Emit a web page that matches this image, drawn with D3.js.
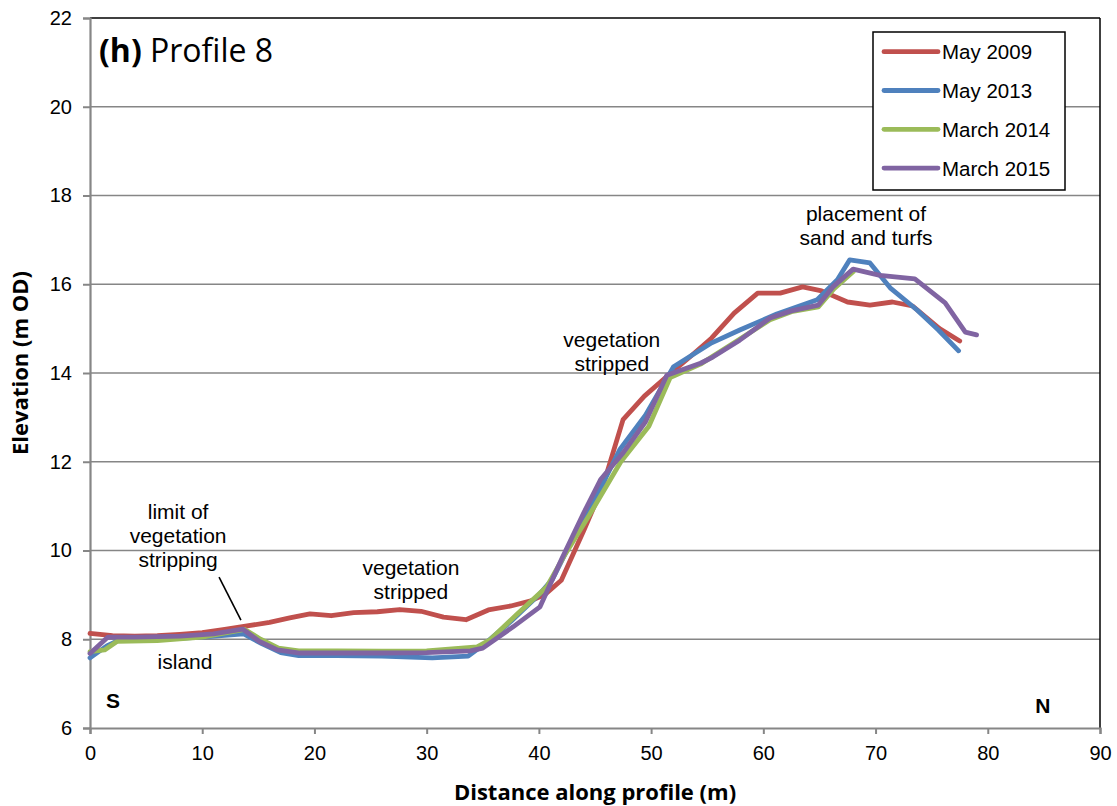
<!DOCTYPE html>
<html><head><meta charset="utf-8">
<script src="https://cdn.jsdelivr.net/npm/d3@7"></script>
<style>
html,body{margin:0;padding:0;background:#fff;}
svg{display:block;}
</style></head>
<body>
<svg id="chart" width="1117" height="806"></svg>
<script>
// ---- data ----
const seriesNames = ["May 2009", "May 2013", "March 2014", "March 2015"];
const seriesColors = ["#C0504D", "#4F81BD", "#9BBB59", "#8064A2"];

const may2009 = [[0,8.13],[2,8.08],[4,8.07],[6,8.08],[8,8.11],[10,8.15],[12,8.22],[14,8.30],[16,8.38],[17.8,8.48],[19.6,8.57],[21.5,8.53],[23.5,8.60],[25.6,8.62],[27.6,8.67],[29.5,8.63],[31.5,8.50],[33.5,8.44],[35.5,8.66],[37.5,8.75],[39.2,8.86],[40.5,9.0],[42,9.33],[44,10.45],[45.7,11.45],[47.5,12.95],[49.4,13.48],[51.4,13.92],[53.4,14.35],[55.4,14.79],[57.4,15.35],[59.5,15.80],[61.5,15.80],[63.5,15.94],[65.2,15.85],[67.5,15.60],[69.5,15.53],[71.5,15.60],[73.3,15.51],[75.7,15.00],[77.5,14.72]];

const may2013 = [[0,7.58],[1.5,7.85],[2.5,7.97],[6,8.00],[10,8.05],[13.7,8.12],[15.3,7.90],[17,7.70],[18.6,7.63],[22,7.63],[26,7.62],[30.5,7.58],[33.7,7.62],[35.2,7.90],[37.5,8.40],[40,9.00],[41.2,9.35],[42.5,10.0],[44.5,10.9],[47.2,12.27],[49.5,13.05],[52,14.14],[55.4,14.68],[57.9,14.97],[61.2,15.33],[64.8,15.65],[66.6,16.10],[67.7,16.55],[69.5,16.48],[71.3,15.92],[73.7,15.42],[75.6,14.97],[77.4,14.50]];

const march2014 = [[0,7.72],[1.3,7.76],[2.4,7.95],[6,7.97],[10,8.05],[13.8,8.22],[15.2,8.00],[16.8,7.80],[18.6,7.74],[22,7.74],[26,7.73],[30,7.74],[34.5,7.83],[35.6,7.98],[38,8.55],[40.7,9.18],[42.3,9.9],[44.5,10.8],[47.3,12.0],[49.8,12.8],[51.7,13.9],[54.4,14.2],[57.5,14.7],[60.6,15.20],[62.5,15.38],[64.9,15.49],[66.3,15.90],[68,16.28]];

const march2015 = [[0,7.68],[1.6,8.05],[4,8.05],[8,8.07],[11,8.12],[13.6,8.23],[15.1,7.95],[16.7,7.76],[18.7,7.69],[22,7.69],[26,7.69],[30,7.70],[33.9,7.74],[35,7.80],[37.7,8.28],[40.1,8.73],[42,9.79],[44,10.85],[45.5,11.6],[47.5,12.2],[49.5,12.9],[51.4,13.95],[54.4,14.22],[55.5,14.36],[57.9,14.74],[60.6,15.24],[62.5,15.40],[64.9,15.53],[66.2,15.94],[68,16.34],[70.4,16.20],[73.5,16.12],[76.2,15.58],[78,14.92],[79,14.86]];

const xTicks = [0,10,20,30,40,50,60,70,80,90];
const yTicks = [6,8,10,12,14,16,18,20,22];

// annotations: anchor in data units, text lines
const annotations = [
  {x:7.85, y:10.70, lines:["limit of","vegetation","stripping"]},
  {x:8.47, y:7.32, lines:["island"]},
  {x:28.6, y:9.44, lines:["vegetation","stripped"]},
  {x:46.5, y:14.58, lines:["vegetation","stripped"]},
  {x:69.15, y:17.42, lines:["placement of","sand and turfs"]}
];
const arrowLine = [[11.5,9.4],[13.45,8.43]];

// ---- layout ----
const svg = d3.select("#chart");
const L = 90, R = 1100, T = 18, B = 728;
const x = d3.scaleLinear().domain([0,90]).range([L,R]);
const y = d3.scaleLinear().domain([6,22]).range([B,T]);
const sans = "Liberation Sans, Arial, sans-serif";
const calib = "Open Sans, Lato, sans-serif";

// gridlines
svg.append("g").selectAll("line").data(yTicks.filter(d=>d>6 && d<22)).join("line")
  .attr("x1",L).attr("x2",R).attr("y1",d=>y(d)).attr("y2",d=>y(d))
  .attr("stroke","#868686").attr("stroke-width",1.5);

// top/right border
svg.append("line").attr("x1",L).attr("x2",R).attr("y1",T).attr("y2",T).attr("stroke","#000").attr("stroke-width",1.5);
svg.append("line").attr("x1",R).attr("x2",R).attr("y1",T).attr("y2",B).attr("stroke","#000").attr("stroke-width",1.5);

// axes
const xAxis = d3.axisBottom(x).tickValues(xTicks).tickSize(6).tickPadding(12);
const yAxis = d3.axisLeft(y).tickValues(yTicks).tickSize(7).tickPadding(11);
const gx = svg.append("g").attr("transform",`translate(0,${B})`).call(xAxis);
const gy = svg.append("g").attr("transform",`translate(${L},0)`).call(yAxis);
[gx,gy].forEach(g=>{
  g.select(".domain").attr("stroke","#868686").attr("stroke-width",2.2);
  g.selectAll(".tick line").attr("stroke","#868686").attr("stroke-width",2);
  g.selectAll(".tick text").attr("font-family",sans).attr("font-size",20).attr("fill","#000");
});

// lines
const line = d3.line().x(d=>x(d[0])).y(d=>y(d[1]));
const allSeries = [may2009, may2013, march2014, march2015];
svg.append("g").selectAll("path").data(allSeries).join("path")
  .attr("d",line).attr("fill","none")
  .attr("stroke",(d,i)=>seriesColors[i]).attr("stroke-width",4.8)
  .attr("stroke-linejoin","round").attr("stroke-linecap","round");

// annotation arrow
svg.append("line")
  .attr("x1",x(arrowLine[0][0])).attr("y1",y(arrowLine[0][1]))
  .attr("x2",x(arrowLine[1][0])).attr("y2",y(arrowLine[1][1]))
  .attr("stroke","#000").attr("stroke-width",1.6);

// annotation texts
const ag = svg.append("g").attr("font-family",sans).attr("font-size",21).attr("fill","#000").attr("text-anchor","middle");
annotations.forEach(a=>{
  const t = ag.append("text").attr("x",x(a.x)).attr("y",y(a.y));
  a.lines.forEach((ln,i)=>t.append("tspan").attr("x",x(a.x)).attr("dy",i===0?0:24).text(ln));
});

// S and N
svg.append("text").attr("x",x(2.05)).attr("y",y(6.45)).attr("text-anchor","middle")
  .attr("font-family",sans).attr("font-weight","bold").attr("font-size",21).text("S");
svg.append("text").attr("x",x(84.9)).attr("y",y(6.34)).attr("text-anchor","middle")
  .attr("font-family",sans).attr("font-weight","bold").attr("font-size",21).text("N");

// title
const title = svg.append("text").attr("x",99).attr("y",62)
  .attr("font-family",calib).attr("font-size",32).attr("fill","#000");
title.append("tspan").attr("font-weight","bold").text("(h)");
title.append("tspan").text(" Profile 8");

// axis titles
svg.append("text").attr("x",595).attr("y",800).attr("text-anchor","middle")
  .attr("font-family",calib).attr("font-weight","bold").attr("font-size",22)
  .text("Distance along profile (m)");
svg.append("text").attr("transform",`translate(28,${(T+B)/2 - 10}) rotate(-90)`).attr("text-anchor","middle")
  .attr("font-family",calib).attr("font-weight","bold").attr("font-size",22)
  .text("Elevation (m OD)");

// legend
const lg = svg.append("g");
lg.append("rect").attr("x",873).attr("y",32).attr("width",192).attr("height",158)
  .attr("fill","#fff").attr("stroke","#000").attr("stroke-width",1.5);
const rows = lg.selectAll("g.row").data(seriesNames).join("g").attr("class","row")
  .attr("transform",(d,i)=>`translate(0,${51.7 + i*38.8})`);
rows.append("line").attr("x1",884).attr("x2",938).attr("y1",0).attr("y2",0)
  .attr("stroke",(d,i)=>seriesColors[i]).attr("stroke-width",4.8).attr("stroke-linecap","round");
rows.append("text").attr("x",942).attr("y",7.5)
  .attr("font-family",sans).attr("font-size",20.5).text(d=>d);
</script>
</body></html>
